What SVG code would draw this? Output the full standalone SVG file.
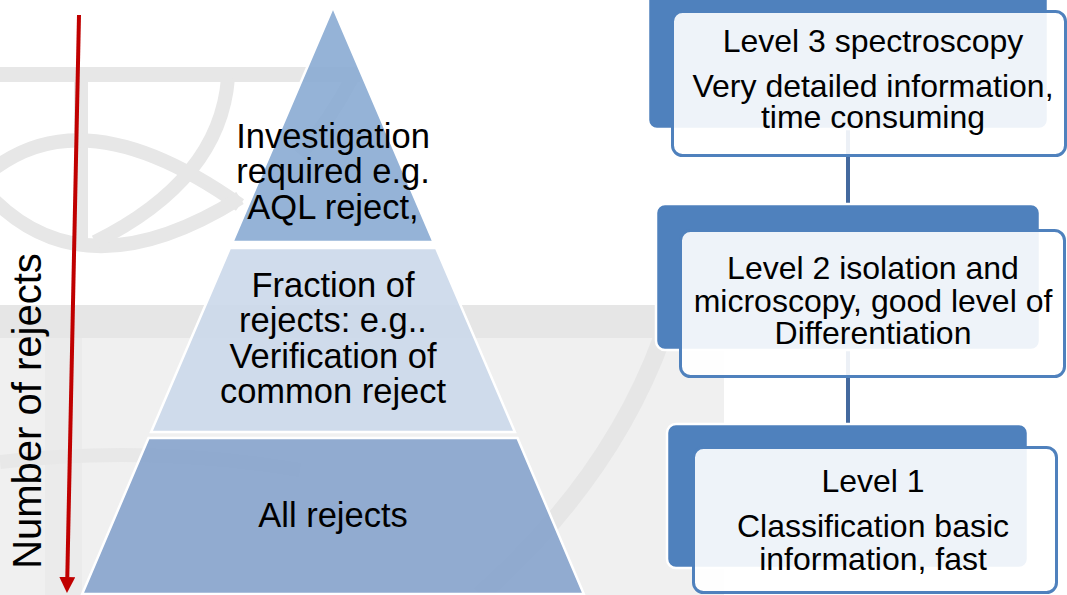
<svg xmlns="http://www.w3.org/2000/svg" width="1067" height="595" viewBox="0 0 1067 595">
  <style>
    .t { font-family: "Liberation Sans", Arial, sans-serif; font-size: 32px; fill: #000; text-anchor: middle; }
    .p { font-size: 34.5px; }
    .wm { fill: none; stroke: #e7e7e7; stroke-width: 14; }
    .back { fill: #4f81bd; stroke: #ffffff; stroke-width: 2.5; }
    .front { fill: #ffffff; fill-opacity: 0.9; stroke: #4f81bd; stroke-width: 3; }
    .conn { stroke: #44699e; stroke-width: 4; fill: none; }
    .seg { stroke: #ffffff; stroke-width: 2.5; stroke-linejoin: miter; }
  </style>
  <defs>
    <marker id="redhead" markerWidth="16" markerHeight="16" refX="0" refY="8" orient="auto" markerUnits="userSpaceOnUse" viewBox="0 0 16 16">
      <path d="M0,0 L16,8 L0,16 Z" fill="#c00000"/>
    </marker>
  </defs>

  <rect x="0" y="0" width="1067" height="595" fill="#ffffff"/>

  <!-- background watermark -->
  <g id="watermark">
    <rect x="0" y="67" width="360" height="15" fill="#e7e7e7"/>
    <rect x="74" y="82" width="14" height="158" fill="#e7e7e7"/>
    <path class="wm" d="M-10,172 Q85,95 240,205"/>
    <path class="wm" d="M-10,196 Q85,295 240,198"/>
    <path class="wm" d="M228,78 Q220,180 95,242"/>
    <path class="wm" d="M352,78 Q330,120 300,155"/>
    <rect x="0" y="305" width="724" height="33" fill="#e6e6e6"/>
    <rect x="0" y="338" width="724" height="257" fill="#f0f0f0"/>
    <rect x="45" y="338" width="37" height="257" fill="#ebebeb"/>
    <path d="M0,462 Q150,445 300,470" fill="none" stroke="#e8e8e8" stroke-width="14"/>
    <path d="M662,338 Q610,480 480,595" fill="none" stroke="#e6e6e6" stroke-width="18"/>
  </g>

  <!-- pyramid -->
  <g id="pyramid-top">
    <polygon class="seg" points="333,7 433.6,242 232.4,242" fill="#89abd3" fill-opacity="0.9"/>
    <text class="t p" x="333" y="148">Investigation</text>
    <text class="t p" x="333" y="183">required e.g.</text>
    <text class="t p" x="333" y="219">AQL reject,</text>
  </g>
  <g id="pyramid-middle">
    <polygon class="seg" points="229.9,248 436.1,248 514.9,432 151.1,432" fill="#cbd8ea" fill-opacity="0.9"/>
    <text class="t p" x="333" y="297">Fraction of</text>
    <text class="t p" x="333" y="332">rejects: e.g..</text>
    <text class="t p" x="333" y="368">Verification of</text>
    <text class="t p" x="333" y="403">common reject</text>
  </g>
  <g id="pyramid-bottom">
    <polygon class="seg" points="148.5,438 517.5,438 583.8,594 82.2,594" fill="#86a3cc" fill-opacity="0.9"/>
    <text class="t p" x="333" y="527">All rejects</text>
  </g>

  <!-- axis -->
  <g id="axis">
    <line x1="79" y1="15" x2="67.3" y2="577" stroke="#c00000" stroke-width="4" marker-end="url(#redhead)"/>
    <text class="t" style="font-size:40px" transform="translate(41,411) rotate(-90)">Number of rejects</text>
  </g>

  <!-- connectors -->
  <g id="connectors">
    <line class="conn" x1="848" y1="129" x2="848" y2="205"/>
    <line class="conn" x1="848" y1="350" x2="848" y2="425"/>
  </g>

  <!-- level boxes -->
  <g id="level3">
    <rect class="back" x="648" y="-20" width="400" height="149" rx="9"/>
    <rect class="front" x="672.5" y="11.5" width="393" height="144" rx="10"/>
    <text class="t" x="873" y="52">Level 3 spectroscopy</text>
    <text class="t" x="873" y="97">Very detailed information,</text>
    <text class="t" x="873" y="128">time consuming</text>
  </g>
  <g id="level2">
    <rect class="back" x="656" y="204" width="384" height="146" rx="9"/>
    <rect class="front" x="680.5" y="230.5" width="384" height="146" rx="10"/>
    <text class="t" x="873" y="279">Level 2 isolation and</text>
    <text class="t" x="873" y="312">microscopy, good level of</text>
    <text class="t" x="873" y="344">Differentiation</text>
  </g>
  <g id="level1">
    <rect class="back" x="667" y="424" width="361" height="144" rx="9"/>
    <rect class="front" x="693.5" y="447.5" width="363" height="145" rx="10"/>
    <text class="t" x="873" y="492">Level 1</text>
    <text class="t" x="873" y="537">Classification basic</text>
    <text class="t" x="873" y="570">information, fast</text>
  </g>
</svg>
